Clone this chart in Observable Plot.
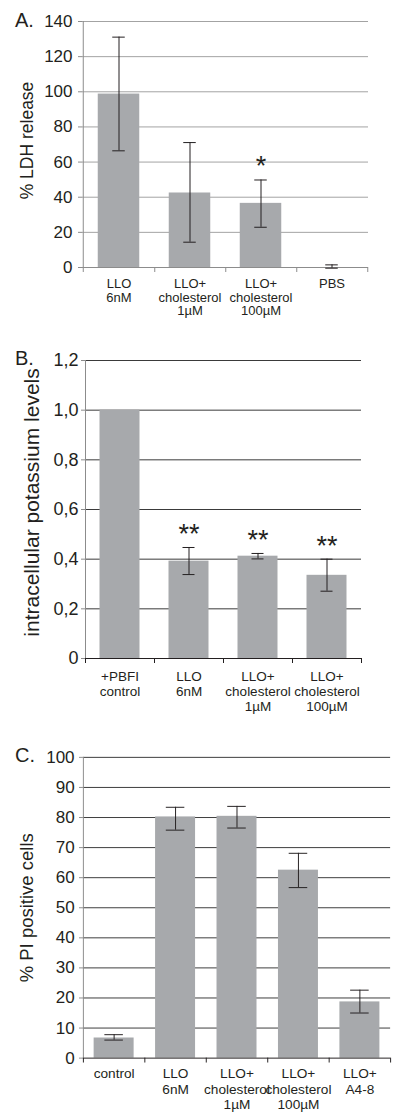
<!DOCTYPE html>
<html><head><meta charset="utf-8">
<script src="https://cdn.jsdelivr.net/npm/d3@7"></script>
<script src="https://cdn.jsdelivr.net/npm/@observablehq/plot@0.6"></script>
<style>
body{margin:0;background:#fff;}
#root{position:relative;width:395px;height:1115px;overflow:hidden;font-family:"Liberation Sans",Arial,sans-serif;color:#231f20;background:#fff;}
.panel{position:absolute;left:0;}
.letter{position:absolute;font-size:20px;line-height:1;}
</style></head><body><div id="root"></div>
<script>
// ---- Panel A ----
const categoriesA = ["LLO\n6nM", "LLO+\ncholesterol\n1µM", "LLO+\ncholesterol\n100µM", "PBS"];
const valuesA = [98.7, 42.4, 36.5, 0];
const errLowA = [66.4, 14.4, 22.9, -0.4];
const errHighA = [131.1, 71.1, 49.8, 1.5];
const starsA = ["", "", "*", ""];
const yTicksA = [0, 20, 40, 60, 80, 100, 120, 140];
const yTickLabelsA = ["0", "20", "40", "60", "80", "100", "120", "140"];
const yTitleA = "% LDH release";

// ---- Panel B ----
const categoriesB = ["+PBFI\ncontrol", "LLO\n6nM", "LLO+\ncholesterol\n1µM", "LLO+\ncholesterol\n100µM"];
const valuesB = [1.0, 0.392, 0.412, 0.335];
const errLowB = [null, 0.338, 0.401, 0.271];
const errHighB = [null, 0.447, 0.423, 0.40];
const starsB = ["", "**", "**", "**"];
const yTicksB = [0, 0.2, 0.4, 0.6, 0.8, 1.0, 1.2];
const yTickLabelsB = ["0", "0,2", "0,4", "0,6", "0,8", "1,0", "1,2"];
const yTitleB = "intracellular potassium levels";

// ---- Panel C ----
const categoriesC = ["control", "LLO\n6nM", "LLO+\ncholesterol\n1µM", "LLO+\ncholesterol\n100µM", "LLO+\nA4-8"];
const valuesC = [6.7, 80.2, 80.4, 62.5, 18.7];
const errLowC = [6.0, 75.8, 76.5, 56.7, 15.0];
const errHighC = [7.8, 83.4, 83.7, 68.1, 22.6];
const starsC = ["", "", "", "", ""];
const yTicksC = [0, 10, 20, 30, 40, 50, 60, 70, 80, 90, 100];
const yTickLabelsC = ["0", "10", "20", "30", "40", "50", "60", "70", "80", "90", "100"];
const yTitleC = "% PI positive cells";

const FONT = "'Liberation Sans', Arial, sans-serif";
const INK = "#231f20";
const BAR = "#a7a9ac";

function panel(o) {
  const n = o.cats.length;
  const data = o.cats.map((c, i) => ({c, v: o.vals[i], lo: o.lo[i], hi: o.hi[i], s: o.stars[i]}));
  const err = data.filter(d => d.lo != null);
  const bw = (o.width - o.ml - o.mr) / n;
  const ymax = o.ticks[o.ticks.length - 1];
  const fmt = d => o.tickLabels[o.ticks.indexOf(d)];
  const capInset = (bw - o.cap) / 2;
  return Plot.plot({
    width: o.width, height: o.height,
    marginLeft: o.ml, marginRight: o.mr, marginTop: o.mt, marginBottom: o.mb,
    style: {fontFamily: FONT, color: INK, background: "transparent", overflow: "visible"},
    x: {domain: o.cats, padding: 0, axis: null},
    y: {domain: [0, ymax], axis: null},
    marks: [
      Plot.ruleY(o.ticks.filter(t => t > 0), {stroke: o.grid, strokeWidth: 1}),
      Plot.barY(data, {x: "c", y: "v", fill: BAR, insetLeft: o.inset, insetRight: o.inset}),
      Plot.ruleY([0], {stroke: o.base, strokeWidth: 1}),
      Plot.ruleX([o.cats[0]], {y1: 0, y2: ymax, dx: -bw / 2, stroke: o.left}),
      Plot.axisY({ticks: o.ticks, tickFormat: fmt, tickSize: 4, tickPadding: o.ytp, fontSize: o.tickFont, stroke: o.left, label: null}),
      Plot.axisX({tickSize: 5, tickFormat: () => "", dx: bw / 2, stroke: o.base, label: null}),
      Plot.axisX({ticks: [o.cats[0]], tickSize: 5, tickFormat: () => "", dx: -bw / 2, stroke: o.base, label: null}),
      Plot.axisX({tickSize: 0, tickPadding: o.xtp, fontSize: o.catFont, lineHeight: o.lh, label: null}),
      Plot.ruleX(err, {x: "c", y1: "lo", y2: "hi", stroke: INK, strokeWidth: 1}),
      Plot.tickY(err, {x: "c", y: "hi", stroke: INK, insetLeft: capInset, insetRight: capInset}),
      Plot.tickY(err, {x: "c", y: "lo", stroke: INK, insetLeft: capInset, insetRight: capInset}),
      Plot.text(data.filter(d => d.s), {x: "c", y: "hi", text: "s", fontSize: 27, lineAnchor: "bottom", dy: -4.6, fill: INK}),
      Plot.text([o.title], {text: d => d, frameAnchor: "left", textAnchor: "middle", lineAnchor: "middle", rotate: -90, dx: o.titleDx, dy: o.titleDy, fontSize: o.titleFont, fill: INK})
    ]
  });
}

const root = document.getElementById("root");
function place(svg, top, letter, letterTop) {
  const d = document.createElement("div");
  d.className = "panel"; d.style.top = top + "px";
  d.appendChild(svg); root.appendChild(d);
  const l = document.createElement("div");
  l.className = "letter"; l.style.left = "15px"; l.style.top = letterTop + "px";
  l.textContent = letter; root.appendChild(l);
}

place(panel({
  cats: categoriesA, vals: valuesA, lo: errLowA, hi: errHighA, stars: starsA,
  ticks: yTicksA, tickLabels: yTickLabelsA, title: yTitleA,
  width: 395, height: 330, ml: 82, mr: 27, mt: 21, mb: 63,
  grid: "#a3a3a3", base: "#8c8c8c", left: "#8c8c8c",
  inset: 14.75, cap: 13, ytp: 6, tickFont: 17, xtp: 11, catFont: 13, lh: 1.05,
  titleDx: -55, titleDy: -4, titleFont: 17.5
}), 0, "A.", 10);

place(panel({
  cats: categoriesB, vals: valuesB, lo: errLowB, hi: errHighB, stars: starsB,
  ticks: yTicksB, tickLabels: yTickLabelsB, title: yTitleB,
  width: 395, height: 375, ml: 85, mr: 34, mt: 30, mb: 47,
  grid: "#3a3a3a", base: INK, left: "#8c8c8c",
  inset: 14.5, cap: 12, ytp: 3, tickFont: 18, xtp: 12, catFont: 13.5, lh: 1.1,
  titleDx: -53, titleDy: -7, titleFont: 21
}), 330, "B.", 348);

place(panel({
  cats: categoriesC, vals: valuesC, lo: errLowC, hi: errHighC, stars: starsC,
  ticks: yTicksC, tickLabels: yTickLabelsC, title: yTitleC,
  width: 405, height: 375, ml: 85, mr: 5, mt: 17.3, mb: 49.3,
  grid: "#3a3a3a", base: INK, left: "#8c8c8c",
  inset: 11, cap: 19, ytp: 5, tickFont: 17.5, xtp: 9, catFont: 14, lh: 1.15,
  titleDx: -58, titleDy: 0, titleFont: 19
}), 740, "C.", 745);
</script></body></html>
